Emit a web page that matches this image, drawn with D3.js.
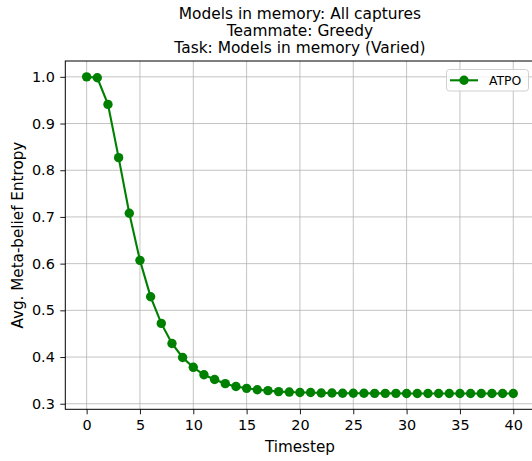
<!DOCTYPE html>
<html><head><meta charset="utf-8">
<script src="https://cdn.jsdelivr.net/npm/d3@7"></script>
<style>body{margin:0;background:#fff;} svg{display:block;font-family:"DejaVu Sans",sans-serif;}</style>
</head><body>
<script>
const titleLines = ["Models in memory: All captures", "Teammate: Greedy", "Task: Models in memory (Varied)"];
const xLabel = "Timestep";
const yLabel = "Avg. Meta-belief Entropy";
const seriesName = "ATPO";
const timesteps = d3.range(0, 41);
const entropy = [1.000, 0.998, 0.941, 0.827, 0.708, 0.607, 0.529, 0.472, 0.429, 0.399,
  0.378, 0.362, 0.352, 0.343, 0.337, 0.333, 0.330, 0.328, 0.326, 0.325,
  0.324, 0.324, 0.323, 0.323, 0.3225, 0.3225, 0.3225, 0.3223, 0.3222, 0.3222,
  0.322, 0.322, 0.322, 0.322, 0.322, 0.322, 0.322, 0.322, 0.322, 0.322, 0.322];
const xTicks = [0, 5, 10, 15, 20, 25, 30, 35, 40];
const yTicks = [0.3, 0.4, 0.5, 0.6, 0.7, 0.8, 0.9, 1.0];

const W = 532, H = 461;
const m = {left: 65.3, top: 61, right: 534.6, bottom: 409.3};
const svg = d3.select("body").append("svg").attr("width", W).attr("height", H);

const xmin = d3.min(timesteps), xmax = d3.max(timesteps), xr = xmax - xmin;
const ymin = d3.min(entropy), ymax = d3.max(entropy), yr = ymax - ymin;
const x = d3.scaleLinear().domain([xmin - 0.05*xr, xmax + 0.05*xr]).range([m.left, m.right]);
const y = d3.scaleLinear().domain([ymin - 0.05*yr, ymax + 0.05*yr]).range([m.bottom, m.top]);

// grid
const g = svg.append("g");
g.selectAll(".vx").data(xTicks).enter().append("line")
  .attr("x1", d => x(d)).attr("x2", d => x(d)).attr("y1", m.top).attr("y2", m.bottom)
  .attr("stroke", "#b0b0b0").attr("stroke-width", 0.9).attr("stroke-opacity", 0.85);
g.selectAll(".hy").data(yTicks).enter().append("line")
  .attr("y1", d => y(d)).attr("y2", d => y(d)).attr("x1", m.left).attr("x2", m.right)
  .attr("stroke", "#b0b0b0").attr("stroke-width", 0.9).attr("stroke-opacity", 0.85);

// line + markers
const pts = timesteps.map((t, i) => [t, entropy[i]]);
svg.append("path").datum(pts)
  .attr("d", d3.line().x(d => x(d[0])).y(d => y(d[1])))
  .attr("fill", "none").attr("stroke", "#008000").attr("stroke-width", 2.1);
svg.selectAll(".pt").data(pts).enter().append("circle")
  .attr("cx", d => x(d[0])).attr("cy", d => y(d[1])).attr("r", 4.7).attr("fill", "#008000");

// axes
const xAxis = d3.axisBottom(x).tickValues(xTicks).tickSize(5).tickPadding(5.5).tickFormat(d3.format("d"));
const yAxis = d3.axisLeft(y).tickValues(yTicks).tickSize(5).tickPadding(5.5).tickFormat(d3.format(".1f"));
const gx = svg.append("g").attr("transform", `translate(0,${m.bottom})`).call(xAxis);
const gy = svg.append("g").attr("transform", `translate(${m.left},0)`).call(yAxis);
[gx, gy].forEach(a => {
  a.select(".domain").remove();
  a.selectAll("text").attr("font-size", 14.4).attr("fill", "#000").attr("font-family", "DejaVu Sans");
  a.selectAll("line").attr("stroke", "#000").attr("stroke-width", 0.9);
});
// spines
svg.append("rect").attr("x", m.left).attr("y", m.top).attr("width", m.right - m.left).attr("height", m.bottom - m.top)
  .attr("fill", "none").attr("stroke", "#000").attr("stroke-width", 1);

// labels
svg.append("text").attr("x", (m.left + m.right)/2).attr("y", 451.5).attr("text-anchor", "middle")
  .attr("font-size", 15.2).text(xLabel);
svg.append("text").attr("transform", `translate(23,${(m.top + m.bottom)/2}) rotate(-90)`)
  .attr("text-anchor", "middle").attr("font-size", 15.2).text(yLabel);
titleLines.forEach((t, i) => {
  svg.append("text").attr("x", (m.left + m.right)/2).attr("y", 19 + i*17.2)
    .attr("text-anchor", "middle").attr("font-size", 15.4).text(t);
});

// legend
const lg = svg.append("g");
lg.append("rect").attr("x", 446.5).attr("y", 69.5).attr("width", 82).attr("height", 21.5).attr("rx", 3)
  .attr("fill", "#fff").attr("fill-opacity", 0.8).attr("stroke", "#d0d0d0").attr("stroke-width", 1);
lg.append("line").attr("x1", 450).attr("x2", 478).attr("y1", 80.3).attr("y2", 80.3)
  .attr("stroke", "#008000").attr("stroke-width", 2.1);
lg.append("circle").attr("cx", 464).attr("cy", 80.3).attr("r", 4.7).attr("fill", "#008000");
lg.append("text").attr("x", 489).attr("y", 84.8).attr("font-size", 12.4).text(seriesName);
</script>
</body></html>
